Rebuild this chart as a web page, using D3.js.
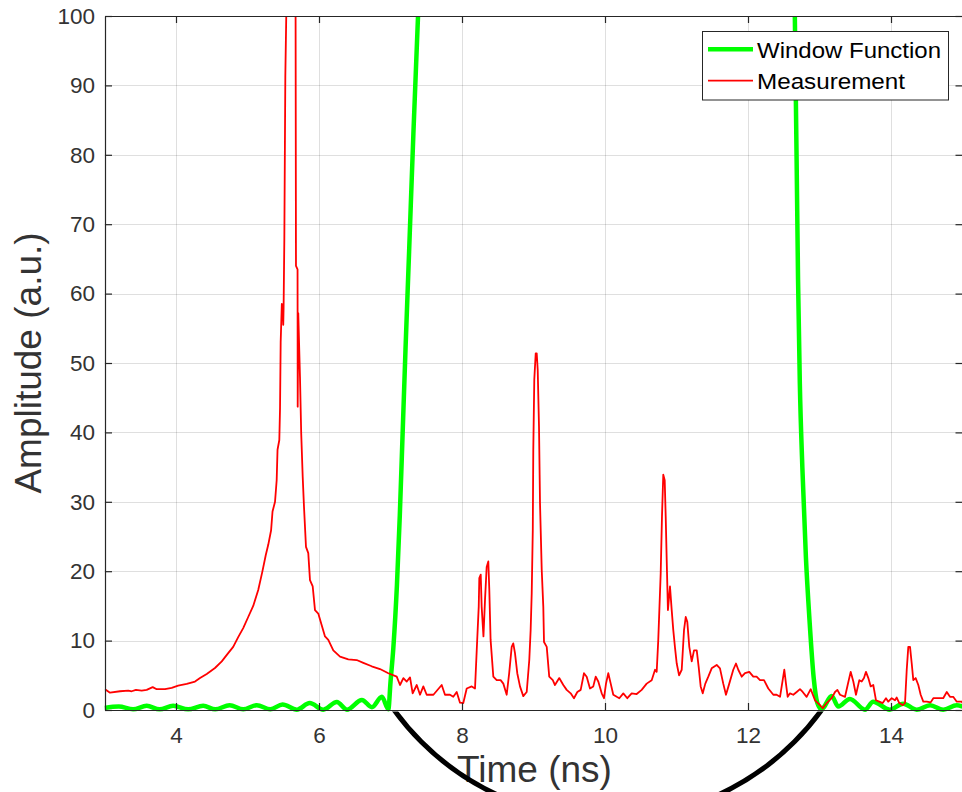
<!DOCTYPE html>
<html>
<head>
<meta charset="utf-8">
<script src="https://cdn.jsdelivr.net/npm/d3@7"></script>
<style>
  html, body { margin: 0; padding: 0; background: #fff; }
  svg { display: block; }
  text { font-family: "Liberation Sans", Arial, Helvetica, sans-serif; fill: #262626; }
</style>
</head>
<body>
<svg id="chart" width="962" height="792"></svg>
<script>
// ---------------- data ----------------
const xTicks = [4, 6, 8, 10, 12, 14];
const yTicks = [0, 10, 20, 30, 40, 50, 60, 70, 80, 90, 100];
const seriesNames = ["Window Function", "Measurement"];
const seriesColors = ["#00ff00", "#ff0000"];

// Window function (time ns, amplitude a.u.)
const windowT = [3.0, 3.2, 3.40, 3.59, 3.77, 3.96, 4.17, 4.38, 4.55, 4.75, 4.94, 5.13, 5.32, 5.49,
  5.69, 5.87, 6.06, 6.25, 6.39, 6.60, 6.74, 6.88, 6.97, 7.0, 7.04, 7.09, 7.13, 7.17, 7.21, 7.26,
  7.32, 7.385, 7.45, 7.6, 12.5, 12.6, 12.655, 12.70, 12.725, 12.76, 12.81, 12.86, 12.92, 12.97,
  13.03, 13.053, 13.17, 13.263, 13.426, 13.636, 13.75, 13.983, 14.17, 14.36, 14.546, 14.73, 14.92, 15.0];
const windowV = [0.3, 0.5, 0.1, 0.6, 0.1, 0.6, 0.1, 0.6, 0.1, 0.7, 0.1, 0.7, 0.1, 0.8,
  0.05, 1.0, 0.05, 1.15, 0.05, 1.45, 0.4, 1.9, 0.1, 4, 9, 18, 28, 40, 52, 66,
  83, 100, 118, 150, 150, 120, 100, 62, 47, 35, 22, 13, 4.5, 1,
  0.1, 0.3, 2.0, 0.5, 1.6, 0.05, 1.2, 0.05, 0.9, 0.05, 0.7, 0.05, 0.7, 0.5];

// Measurement (time ns, amplitude a.u.)
const measT = [3.007, 3.077, 3.217, 3.333, 3.38, 3.44, 3.52, 3.59, 3.674, 3.73, 3.846, 3.94, 4.03, 4.15,
  4.266, 4.336, 4.43, 4.545, 4.64, 4.73, 4.80, 4.87, 4.94, 5.01, 5.08, 5.15, 5.207, 5.255, 5.29, 5.33,
  5.35, 5.385, 5.408, 5.42, 5.445, 5.455, 5.464, 5.48, 5.495, 5.50, 5.505, 5.515, 5.529, 5.548,
  5.56, 5.60, 5.65, 5.672, 5.678, 5.70, 5.702, 5.71, 5.734, 5.751, 5.772, 5.79, 5.818, 5.85,
  5.874, 5.912, 5.944, 5.99, 6.038, 6.084, 6.13, 6.20, 6.294, 6.41, 6.527, 6.62, 6.737, 6.853,
  6.97, 7.087, 7.133, 7.18, 7.227, 7.273, 7.31, 7.367, 7.413, 7.459, 7.506, 7.60, 7.716, 7.762,
  7.832, 7.878, 7.926, 7.972, 8.018, 8.066, 8.136, 8.182, 8.206, 8.234, 8.242, 8.262, 8.275, 8.30,
  8.322, 8.345, 8.368, 8.382, 8.40, 8.438, 8.485, 8.54, 8.578, 8.625, 8.66, 8.695, 8.717, 8.741,
  8.773, 8.811, 8.857, 8.905, 8.941, 8.96, 8.975, 8.99, 8.997, 9.011, 9.031, 9.045, 9.059, 9.077,
  9.091, 9.115, 9.137, 9.147, 9.185, 9.22, 9.27, 9.30, 9.36, 9.417, 9.464, 9.52, 9.566, 9.613,
  9.66, 9.706, 9.744, 9.79, 9.836, 9.87, 9.906, 9.954, 9.986, 10.014, 10.046, 10.08, 10.116, 10.164,
  10.20, 10.256, 10.312, 10.373, 10.443, 10.513, 10.583, 10.653, 10.70, 10.723, 10.745, 10.779, 10.797, 10.815,
  10.835, 10.849, 10.863, 10.88, 10.909, 10.933, 10.955, 10.979, 11.003, 11.036, 11.073, 11.105, 11.129, 11.151,
  11.179, 11.213, 11.245, 11.283, 11.31, 11.338, 11.367, 11.403, 11.445, 11.492, 11.562, 11.608, 11.654, 11.692,
  11.738, 11.794, 11.832, 11.864, 11.912, 11.958, 12.018, 12.074, 12.12, 12.168, 12.224, 12.284, 12.354, 12.40,
  12.448, 12.485, 12.508, 12.531, 12.555, 12.587, 12.633, 12.681, 12.727, 12.765, 12.82, 12.877, 12.937, 13.007,
  13.045, 13.10, 13.17, 13.217, 13.25, 13.287, 13.357, 13.394, 13.436, 13.473, 13.51, 13.557, 13.59, 13.622,
  13.65, 13.683, 13.716, 13.752, 13.79, 13.836, 13.884, 13.93, 13.962, 14.01, 14.056, 14.08, 14.116, 14.164,
  14.196, 14.22, 14.242, 14.266, 14.29, 14.312, 14.345, 14.382, 14.415, 14.452, 14.50, 14.555, 14.592, 14.66,
  14.73, 14.78, 14.825, 14.87, 14.92, 14.99, 15.0];
const measV = [3.0, 2.5, 2.7, 2.8, 2.7, 2.9, 2.8, 2.9, 3.3, 3.0, 3.0, 3.2, 3.5, 3.75,
  4.1, 4.6, 5.2, 6.05, 7.0, 8.2, 9.1, 10.5, 11.8, 13.4, 15.0, 17.3, 19.9, 22.3, 23.8, 25.9,
  28.6, 30.0, 33.1, 37.5, 38.9, 43.5, 53.0, 58.5, 57.5, 55.5, 58.0, 67.7, 91.3, 104,
  150, 220, 160, 104, 64, 63.5, 43.7, 57.2, 48, 39.9, 33.6, 29.3, 23.5, 22.6,
  18.7, 17.8, 14.4, 13.9, 12.2, 10.6, 10.1, 8.6, 7.7, 7.3, 7.2, 6.8, 6.3, 5.9,
  5.3, 4.8, 3.6, 4.6, 4.1, 4.7, 2.4, 3.6, 2.2, 3.4, 2.2, 2.2, 3.6, 2.2,
  2.2, 1.9, 2.6, 1.05, 1.0, 3.1, 3.4, 3.1, 8.6, 14.9, 19.0, 19.5, 14.9, 10.6,
  15.9, 20.6, 21.4, 17.3, 10.1, 4.8, 4.3, 4.3, 3.8, 2.2, 5.3, 9.1, 9.6, 8.2,
  5.3, 3.4, 2.0, 2.6, 7.2, 11.5, 16.8, 25.9, 37.5, 47.6, 51.4, 51.4, 49.0, 40.8,
  29.8, 20.2, 14.9, 9.8, 9.1, 4.8, 4.3, 3.6, 4.6, 3.6, 2.9, 2.4, 1.7, 2.6,
  2.9, 5.3, 4.8, 3.1, 3.4, 4.8, 4.1, 2.4, 1.7, 3.8, 5.3, 3.8, 2.2, 1.9,
  1.7, 2.4, 1.7, 2.4, 2.3, 2.9, 3.8, 4.3, 5.8, 5.5, 10.1, 19.7, 27.9, 33.9,
  33.1, 27.9, 21.6, 14.4, 17.8, 14.4, 11.5, 9.0, 6.7, 5.0, 5.8, 11.5, 13.4, 12.7,
  9.1, 7.0, 8.6, 8.6, 6.2, 3.4, 2.4, 3.8, 4.8, 6.0, 6.5, 6.0, 3.8, 2.2,
  3.8, 5.8, 6.7, 5.8, 4.8, 5.3, 5.5, 4.8, 4.8, 4.3, 4.3, 3.1, 2.2, 2.2,
  1.9, 4.3, 5.8, 3.8, 1.9, 2.4, 2.2, 2.6, 3.0, 2.6, 1.9, 3.0, 1.4, 0.7,
  0.25, 1.0, 1.7, 2.6, 2.9, 2.2, 1.9, 3.6, 5.5, 4.1, 2.2, 4.3, 4.1, 4.6,
  5.5, 4.6, 3.4, 3.6, 1.4, 1.2, 1.0, 1.7, 1.2, 1.7, 1.4, 1.8, 1.0, 0.7,
  1.0, 5.8, 9.1, 9.1, 6.7, 4.3, 4.6, 3.6, 2.2, 1.2, 1.2, 1.1, 1.7, 1.7,
  1.7, 2.6, 1.9, 1.9, 1.2, 1.2, 1.0];

// Annotation circle (centre in data units, radius in ns along the time axis)
const annotCentre = [10.04, 22.3];
const annotRadiusNs = 3.69;

// ---------------- chart ----------------
const svg = d3.select("#chart");
const W = 962, H = 792;
const m = { left: 104.5, right: 962.5, top: 16, bottom: 710 };

const x = d3.scaleLinear().domain([3, 15]).range([m.left, m.right]);
const y = d3.scaleLinear().domain([0, 100]).range([m.bottom, m.top]);

const defs = svg.append("defs");
defs.append("clipPath").attr("id", "plotClip")
  .append("rect").attr("x", m.left).attr("y", m.top)
  .attr("width", m.right - m.left).attr("height", m.bottom - m.top + 2);
defs.append("clipPath").attr("id", "annotClip")
  .append("rect").attr("x", 0).attr("y", m.bottom + 1.5).attr("width", W).attr("height", H);

svg.append("rect").attr("width", W).attr("height", H).attr("fill", "#fff");

// grid
const grid = svg.append("g").attr("stroke", "#262626").attr("stroke-opacity", 0.15).attr("stroke-width", 1);
grid.selectAll("line.gx").data(xTicks).join("line")
  .attr("x1", d => Math.round(x(d)) + 0.5).attr("x2", d => Math.round(x(d)) + 0.5)
  .attr("y1", m.top).attr("y2", m.bottom);
grid.selectAll("line.gy").data(yTicks.filter(d => d > 0 && d < 100)).join("line")
  .attr("y1", d => Math.round(y(d)) + 0.5).attr("y2", d => Math.round(y(d)) + 0.5)
  .attr("x1", m.left).attr("x2", m.right);

// lines
const plot = svg.append("g").attr("clip-path", "url(#plotClip)");
const lineSmooth = d3.line().x(d => x(d[0])).y(d => y(d[1])).curve(d3.curveMonotoneX);
const line = d3.line().x(d => x(d[0])).y(d => y(d[1]));
const windowData = windowT.map((t, i) => [t, windowV[i]]);
const measData = measT.map((t, i) => [t, measV[i]]);

plot.append("path").datum(windowData).attr("d", lineSmooth)
  .attr("fill", "none").attr("stroke", seriesColors[0]).attr("stroke-width", 4.5)
  .attr("stroke-linejoin", "round");
plot.append("path").datum(measData).attr("d", line)
  .attr("fill", "none").attr("stroke", seriesColors[1]).attr("stroke-width", 1.8)
  .attr("stroke-linejoin", "round");

// axes
const axisColor = "#262626";
function styleAxis(g, showText) {
  g.select(".domain").attr("stroke", axisColor).attr("stroke-width", 1.2);
  g.selectAll(".tick line").attr("stroke", axisColor).attr("stroke-width", 1.2);
  g.selectAll(".tick text").attr("fill", "#333")
    .style("fill", "#333")
    .style("font-size", "22.5px")
    .style("font-family", '"Liberation Sans", Arial, Helvetica, sans-serif');
  if (!showText) g.selectAll(".tick text").remove();
  g.attr("font-size", null).attr("font-family", null);
}
svg.append("g").attr("transform", `translate(0,${m.bottom})`)
  .call(d3.axisBottom(x).tickValues(xTicks).tickSize(-7).tickSizeOuter(0).tickPadding(17).tickFormat(d3.format("d")))
  .call(g => styleAxis(g, true));
svg.append("g").attr("transform", `translate(0,${m.top})`)
  .call(d3.axisTop(x).tickValues(xTicks).tickSize(-7).tickSizeOuter(0))
  .call(g => styleAxis(g, false));
svg.append("g").attr("transform", `translate(${m.left + 0.5},0)`)
  .call(d3.axisLeft(y).tickValues(yTicks).tickSize(-7).tickSizeOuter(0).tickPadding(10).tickFormat(d3.format("d")))
  .call(g => styleAxis(g, true));
svg.append("g").attr("transform", `translate(${m.right},0)`)
  .call(d3.axisRight(y).tickValues(yTicks).tickSize(-7).tickSizeOuter(0))
  .call(g => styleAxis(g, false));

// axis labels
svg.append("text").attr("x", (m.left + m.right) / 2 + 1).attr("y", 782)
  .attr("text-anchor", "middle").style("font-size", "37px").style("fill", "#333").text("Time (ns)");
svg.append("text").attr("transform", `translate(41,${(m.top + m.bottom) / 2}) rotate(-90)`)
  .attr("text-anchor", "middle").style("font-size", "37px").style("fill", "#333").text("Amplitude (a.u.)");

// legend
const lg = svg.append("g");
lg.append("rect").attr("x", 702.5).attr("y", 31.5).attr("width", 246).attr("height", 68.5)
  .attr("fill", "#fff").attr("stroke", axisColor).attr("stroke-width", 1);
const legendRows = [49.3, 80.7];
const legendWidths = [4.5, 1.8];
const legendTextLen = [184, 148];
seriesNames.forEach((name, i) => {
  lg.append("line").attr("x1", 708).attr("x2", 753).attr("y1", legendRows[i]).attr("y2", legendRows[i])
    .attr("stroke", seriesColors[i]).attr("stroke-width", legendWidths[i]);
  lg.append("text").attr("x", 757).attr("y", legendRows[i] + 8.5)
    .attr("textLength", legendTextLen[i]).attr("lengthAdjust", "spacingAndGlyphs")
    .style("font-size", "22.5px").style("fill", "#000").text(name);
});

// annotation arc (black circle, visible only below the axes)
const cxA = x(annotCentre[0]), cyA = y(annotCentre[1]);
const rA = x(annotCentre[0] + annotRadiusNs) - x(annotCentre[0]);
svg.append("circle").attr("clip-path", "url(#annotClip)")
  .attr("cx", cxA).attr("cy", cyA).attr("r", rA)
  .attr("fill", "none").attr("stroke", "#000").attr("stroke-width", 5);
</script>
</body>
</html>
